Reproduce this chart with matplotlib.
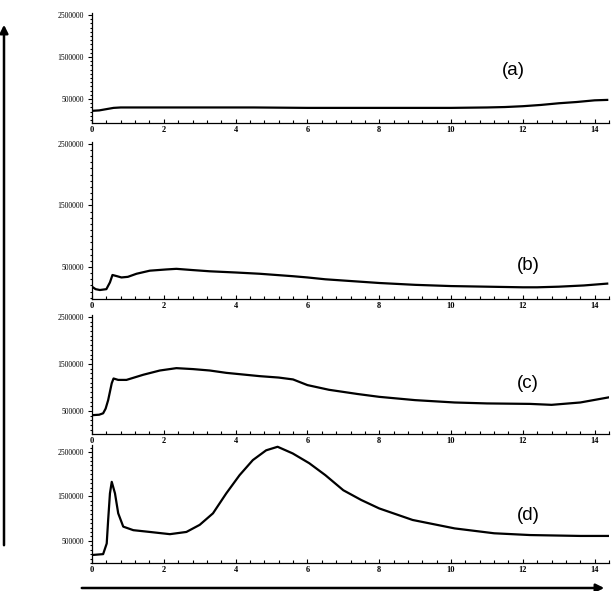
import matplotlib
matplotlib.use("Agg")
import matplotlib.pyplot as plt
from matplotlib.ticker import MultipleLocator, FixedLocator, AutoMinorLocator
from matplotlib.patches import FancyArrowPatch

# panel (a)
xa = [0, 0.2, 0.4, 0.6, 0.8, 1.5, 3, 4.5, 6, 7.5, 9, 10, 11, 11.5, 12, 12.5, 13, 13.5, 14, 14.35]
ya = [220000, 230000, 260000, 290000, 300000, 300000, 300000, 300000, 290000, 290000,
      290000, 290000, 300000, 310000, 330000, 360000, 400000, 430000, 470000, 480000]

# panel (b)
xb = [0, 0.1, 0.22, 0.4, 0.5, 0.57, 0.7, 0.82, 1.0, 1.24, 1.61, 2.07, 2.35, 2.8, 3.28,
      4.02, 4.67, 5.6, 6.0, 6.5, 7, 8, 9, 10, 11, 12, 12.4, 13, 13.7, 14.35]
yb = [180000, 140000, 126000, 140000, 250000, 370000, 350000, 330000, 340000, 390000,
      440000, 460000, 470000, 450000, 430000, 410000, 390000, 350000, 330000, 300000,
      280000, 240000, 210000, 190000, 180000, 170000, 170000, 180000, 200000, 230000]

# panel (c)
xc = [0, 0.2, 0.31, 0.38, 0.45, 0.55, 0.6, 0.73, 0.96, 1.43, 1.89, 2.35, 2.81, 3.28, 3.74,
      4.67, 5.2, 5.6, 6.0, 6.6, 7.4, 8.0, 9.0, 10.1, 11.0, 12.2, 12.8, 13.6, 14.4]
yc = [410000, 420000, 450000, 550000, 730000, 1090000, 1190000, 1160000, 1160000, 1270000,
      1360000, 1410000, 1390000, 1360000, 1310000, 1240000, 1210000, 1170000, 1050000,
      950000, 860000, 800000, 730000, 680000, 660000, 650000, 630000, 680000, 790000]

# panel (d)
xd = [0, 0.31, 0.41, 0.45, 0.5, 0.55, 0.64, 0.73, 0.87, 1.15, 1.61, 2.17, 2.63, 3.0, 3.37,
      3.74, 4.11, 4.48, 4.85, 5.17, 5.59, 6.05, 6.5, 7.0, 7.5, 8.0, 8.93, 10.1, 11.2, 12.2,
      13.6, 14.4]
yd = [180000, 200000, 440000, 970000, 1570000, 1830000, 1570000, 1120000, 820000, 740000,
      700000, 650000, 700000, 860000, 1120000, 1570000, 1980000, 2320000, 2540000, 2620000,
      2470000, 2250000, 1980000, 1640000, 1420000, 1230000, 970000, 780000, 670000, 630000,
      610000, 610000]

labels = ["(a)", "(b)", "(c)", "(d)"]
yticks = [500000, 1500000, 2500000]

W, H = 614, 591
fig = plt.figure(figsize=(W / 100, H / 100), dpi=100)

# (top px, bottom px, ylim, label position in data coords)
panels = [
    (xa, ya, 13, 123, (-70000, 2550000), (11.73, 1190000)),
    (xb, yb, 142, 299, (-20000, 2530000), (12.15, 520000)),
    (xc, yc, 315, 434, (10000, 2540000), (12.15, 1080000)),
    (xd, yd, 445, 563, (0, 2660000), (12.15, 1080000)),
]

for (x, y, top, bot, ylim, lpos), lab in zip(panels, labels):
    ax = fig.add_axes([92 / W, 1 - bot / H, 517 / W, (bot - top) / H])
    ax.plot(x, y, color="black", lw=1.6)
    ax.set_xlim(0, 14.4)
    ax.set_ylim(*ylim)
    ax.spines["top"].set_visible(False)
    ax.spines["right"].set_visible(False)
    ax.spines["left"].set_linewidth(0.9)
    ax.spines["bottom"].set_linewidth(0.9)

    ax.xaxis.set_major_locator(MultipleLocator(2))
    ax.xaxis.set_minor_locator(AutoMinorLocator(5))
    ax.yaxis.set_major_locator(FixedLocator(yticks))
    ax.yaxis.set_minor_locator(MultipleLocator(100000))

    ax.tick_params(axis="x", which="both", direction="in", pad=2, width=0.8)
    ax.tick_params(axis="x", which="major", length=3)
    ax.tick_params(axis="x", which="minor", length=2)
    ax.tick_params(axis="y", which="both", direction="out", pad=3, width=0.8)
    ax.tick_params(axis="y", which="major", length=3)
    ax.tick_params(axis="y", which="minor", length=1.6)

    for t in ax.get_xticklabels():
        t.set_fontfamily("Liberation Serif")
        t.set_fontsize(6)
        t.set_fontweight("bold")
    for t in ax.get_yticklabels():
        t.set_fontfamily("Liberation Serif")
        t.set_fontsize(5.5)
    ax.set_yticklabels([str(v) for v in yticks])

    ax.text(lpos[0], lpos[1], lab, fontsize=13.5, family="Liberation Sans",
            ha="center", va="center")

# axis direction arrows
fig.add_artist(FancyArrowPatch((4 / W, 1 - 548 / H), (4 / W, 1 - 22 / H),
                               transform=fig.transFigure, arrowstyle="-|>",
                               mutation_scale=12, lw=1.8, color="black"))
fig.add_artist(FancyArrowPatch((79 / W, 1 - 588 / H), (607 / W, 1 - 588 / H),
                               transform=fig.transFigure, arrowstyle="-|>",
                               mutation_scale=12, lw=1.8, color="black"))

fig.savefig("out.png", dpi=100)
